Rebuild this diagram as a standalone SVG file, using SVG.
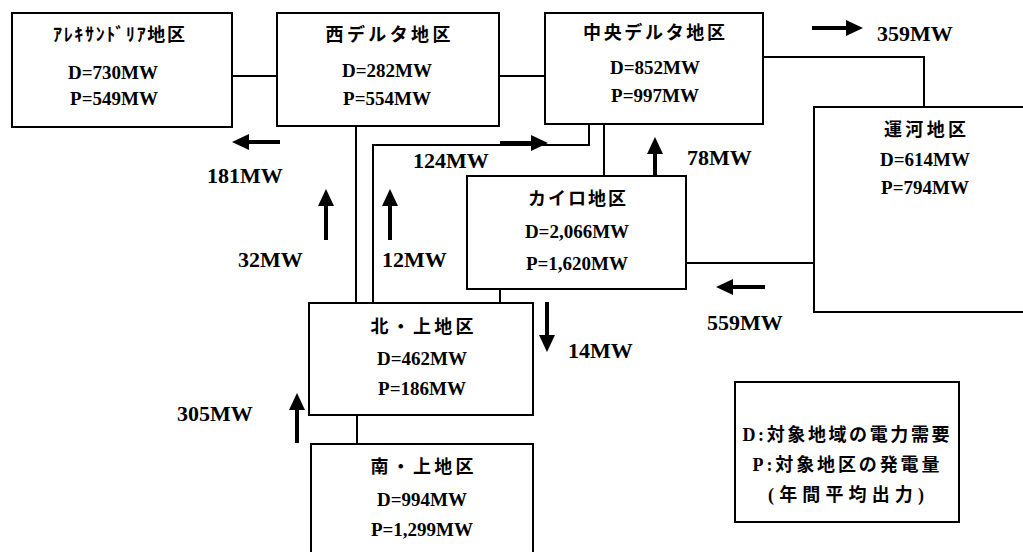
<svg xmlns="http://www.w3.org/2000/svg" width="1023" height="552" viewBox="0 0 1023 552">
<style>
.box{fill:#fff;stroke:#000;stroke-width:2}
.ln{fill:none;stroke:#000;stroke-width:2}
.ar{fill:none;stroke:#000;stroke-width:4;marker-end:url(#ah)}
text{font-family:"Liberation Serif","Noto Sans CJK JP",serif;font-weight:bold;fill:#000;dominant-baseline:central}
.t{font-size:18px;text-anchor:middle}
.v{font-size:19px;text-anchor:middle}
.lb{font-size:22px}
</style>
<defs>
<marker id="ah" markerUnits="userSpaceOnUse" markerWidth="17" markerHeight="16" refX="7" refY="8" orient="auto">
<path d="M0,0 L17,8 L0,16 z" fill="#000"/>
</marker>
</defs>
<rect width="1023" height="552" fill="#fff"/>
<g id="connectors">
<path class="ln" d="M232,76 H277"/>
<path class="ln" d="M499,76 H545"/>
<path class="ln" d="M763,57 H924 V107"/>
<path class="ln" d="M356,126 V303"/>
<path class="ln" d="M373,303 V145 H589 V124"/>
<path class="ln" d="M604,124 V176"/>
<path class="ln" d="M500,289 V303"/>
<path class="ln" d="M686,263 H814"/>
<path class="ln" d="M357,415 V444"/>
</g>
<g id="arrows">
<path class="ar" d="M812,28 H853"/>
<text class="lb" x="877" y="33">359MW</text>
<path class="ar" d="M280,142 H242"/>
<text class="lb" x="207" y="175">181MW</text>
<path class="ar" d="M500,143 H538"/>
<text class="lb" x="413" y="160">124MW</text>
<path class="ar" d="M655,186 V147"/>
<text class="lb" x="687" y="157">78MW</text>
<path class="ar" d="M326,240 V199"/>
<text class="lb" x="238" y="259">32MW</text>
<path class="ar" d="M390,240 V199"/>
<text class="lb" x="382" y="259">12MW</text>
<path class="ar" d="M547,302 V342"/>
<text class="lb" x="568" y="350">14MW</text>
<path class="ar" d="M765,287 H726"/>
<text class="lb" x="707" y="322">559MW</text>
<path class="ar" d="M297,443 V403"/>
<text class="lb" x="177" y="413">305MW</text>
</g>
<g id="alexandria">
<rect class="box" x="12" y="13" width="220" height="114"/>
<text class="t" x="119" y="35" textLength="132" lengthAdjust="spacing">ｱﾚｷｻﾝﾄﾞﾘｱ地区</text>
<text class="v" x="113" y="72">D=730MW</text>
<text class="v" x="114" y="98">P=549MW</text>
</g>
<g id="west-delta">
<rect class="box" x="277" y="13" width="222" height="113"/>
<text class="t" x="388" y="35" textLength="125" lengthAdjust="spacing">西デルタ地区</text>
<text class="v" x="387" y="70">D=282MW</text>
<text class="v" x="387" y="98">P=554MW</text>
</g>
<g id="central-delta">
<rect class="box" x="545" y="13" width="218" height="111"/>
<text class="t" x="654" y="33" textLength="142" lengthAdjust="spacing">中央デルタ地区</text>
<text class="v" x="655" y="67">D=852MW</text>
<text class="v" x="655" y="95">P=997MW</text>
</g>
<g id="canal">
<rect class="box" x="814" y="107" width="220" height="205"/>
<text class="t" x="925" y="130" textLength="82" lengthAdjust="spacing">運河地区</text>
<text class="v" x="925" y="159">D=614MW</text>
<text class="v" x="925" y="187">P=794MW</text>
</g>
<g id="cairo">
<rect class="box" x="467" y="176" width="219" height="113"/>
<text class="t" x="577" y="199" textLength="98" lengthAdjust="spacing">カイロ地区</text>
<text class="v" x="577" y="231">D=2,066MW</text>
<text class="v" x="577" y="263">P=1,620MW</text>
</g>
<g id="north-upper">
<rect class="box" x="309" y="303" width="224" height="112"/>
<text class="t" x="422" y="327" textLength="103" lengthAdjust="spacing">北・上地区</text>
<text class="v" x="422" y="358">D=462MW</text>
<text class="v" x="422" y="388">P=186MW</text>
</g>
<g id="south-upper">
<rect class="box" x="311" y="444" width="222" height="120"/>
<text class="t" x="422" y="467" textLength="103" lengthAdjust="spacing">南・上地区</text>
<text class="v" x="422" y="499">D=994MW</text>
<text class="v" x="422" y="529">P=1,299MW</text>
</g>
<g id="legend">
<rect class="box" x="735" y="382" width="224" height="140"/>
<text class="t" x="846" y="435" textLength="207" lengthAdjust="spacing">D:対象地域の電力需要</text>
<text class="t" x="846" y="465" textLength="187" lengthAdjust="spacing">P:対象地区の発電量</text>
<text class="t" x="846" y="495" textLength="156" lengthAdjust="spacing">(年間平均出力)</text>
</g>
</svg>
